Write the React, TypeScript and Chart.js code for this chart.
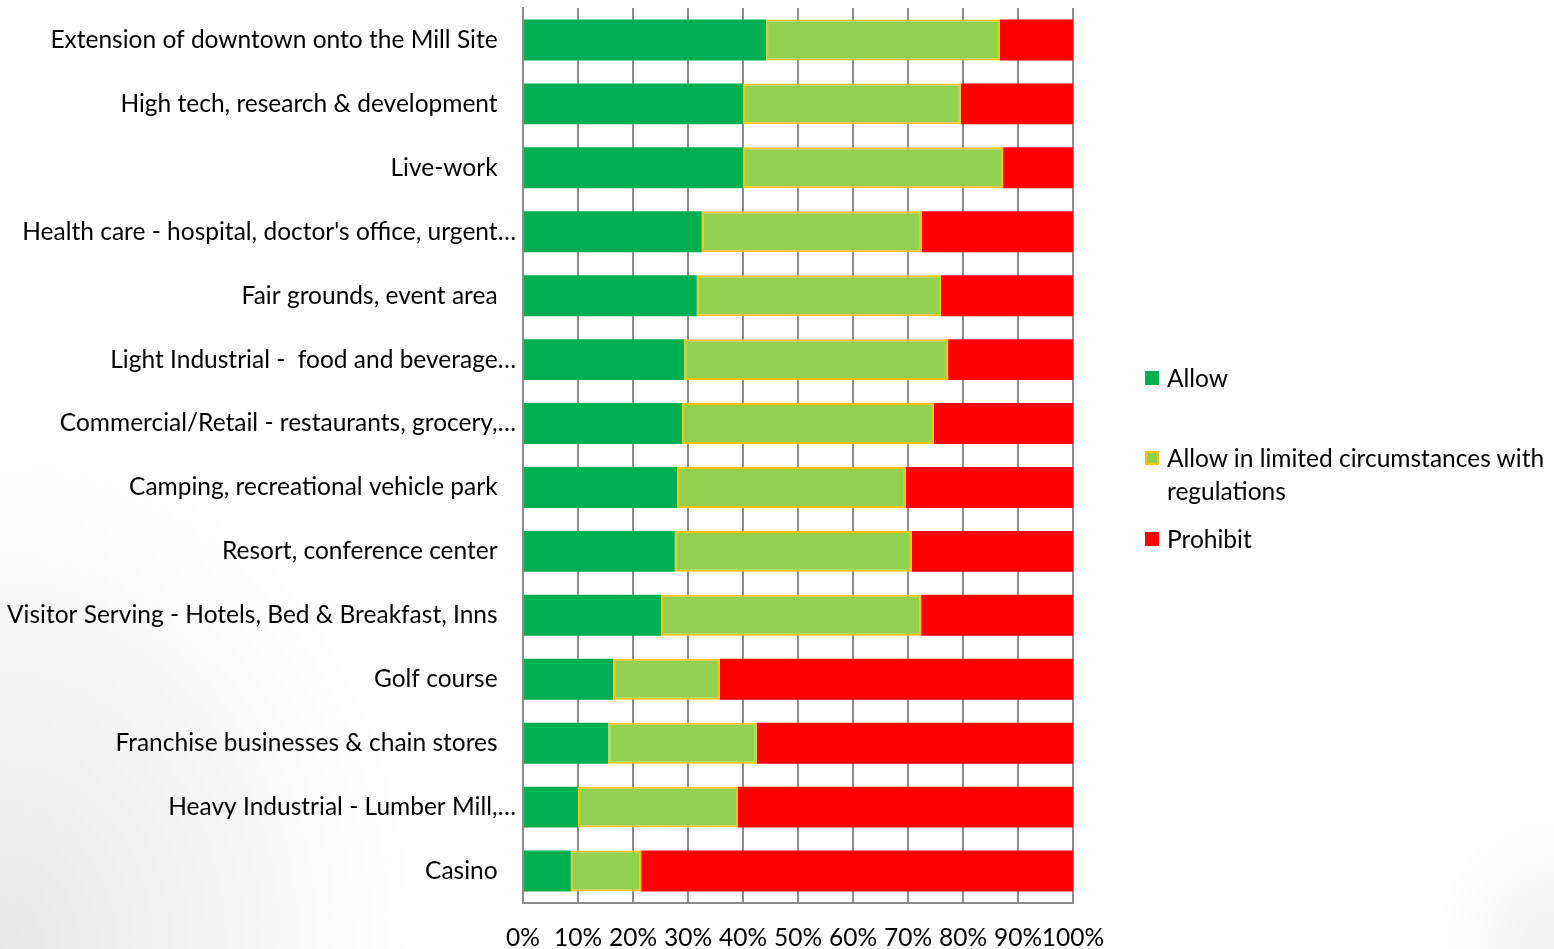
import React, { useEffect, useRef } from "react";
import { Chart, registerables } from "chart.js";

Chart.register(...registerables);

const categories = [
  "Extension of downtown onto the Mill Site",
  "High tech, research & development",
  "Live-work",
  "Health care - hospital, doctor's office, urgent…",
  "Fair grounds, event area",
  "Light Industrial -  food and beverage…",
  "Commercial/Retail - restaurants, grocery,…",
  "Camping, recreational vehicle park",
  "Resort, conference center",
  "Visitor Serving - Hotels, Bed & Breakfast, Inns",
  "Golf course",
  "Franchise businesses & chain stores",
  "Heavy Industrial - Lumber Mill,…",
  "Casino",
];

const allowVals = [44.2, 40.0, 40.0, 32.5, 31.6, 29.3, 28.9, 28.0, 27.6, 25.1, 16.4, 15.5, 10.0, 8.7];
const limitedVals = [42.5, 39.6, 47.3, 40.0, 44.4, 48.0, 45.8, 41.6, 43.1, 47.3, 19.4, 27.0, 29.1, 12.8];
const prohibitVals = [13.3, 20.4, 12.7, 27.5, 24.0, 22.7, 25.3, 30.4, 29.3, 27.6, 64.2, 57.5, 60.9, 78.5];

const seriesNames = ["Allow", "Allow in limited circumstances with regulations", "Prohibit"];
const xTicks = [0, 10, 20, 30, 40, 50, 60, 70, 80, 90, 100];

const FONT = "Lato";
const FS = 24.5;
const GREEN = "#00B050";
const LIGHT = "#92D050";
const GOLD = "#FFC000";
const RED = "#FF0000";

export default function App() {
  const ref = useRef<HTMLCanvasElement | null>(null);

  useEffect(() => {
    if (!ref.current) return;
    const chart = new Chart(ref.current, {
      type: "bar",
      data: {
        labels: categories,
        datasets: [
          {
            label: seriesNames[0],
            data: allowVals,
            backgroundColor: GREEN,
            borderWidth: 0,
            categoryPercentage: 0.8,
            barPercentage: 0.8,
          },
          {
            label: seriesNames[1],
            data: limitedVals,
            backgroundColor: LIGHT,
            borderColor: GOLD,
            borderWidth: 2,
            borderSkipped: false,
            categoryPercentage: 0.8,
            barPercentage: 0.8,
          },
          {
            label: seriesNames[2],
            data: prohibitVals,
            backgroundColor: RED,
            borderWidth: 0,
            categoryPercentage: 0.8,
            barPercentage: 0.8,
          },
        ],
      },
      options: {
        indexAxis: "y",
        animation: false,
        responsive: true,
        maintainAspectRatio: false,
        layout: { padding: { left: 0, right: 481, top: 8, bottom: 0 } },
        plugins: {
          legend: { display: false },
          tooltip: { enabled: false },
        },
        scales: {
          x: {
            stacked: true,
            min: 0,
            max: 100,
            afterBuildTicks: (scale: any) => {
              scale.ticks = xTicks.map((v) => ({ value: v }));
            },
            afterFit: (scale: any) => {
              scale.height = 46;
              scale.paddingLeft = 0;
              scale.paddingRight = 0;
            },
            grid: {
              color: "#8C8C8C",
              lineWidth: 2,
              drawTicks: false,
            },
            border: { color: "#8C8C8C", width: 2 },
            ticks: {
              autoSkip: false,
              maxRotation: 0,
              padding: 20,
              color: "#000",
              font: { family: FONT, size: FS },
              callback: (v: any) => v + "%",
            },
          },
          y: {
            stacked: true,
            afterFit: (scale: any) => {
              scale.width = 523;
              scale.paddingTop = 0;
              scale.paddingBottom = 0;
            },
            grid: { display: false, drawTicks: false },
            border: { color: "#8C8C8C", width: 2 },
            ticks: {
              autoSkip: false,
              padding: 7,
              color: "#000",
              font: { family: FONT, size: FS },
              callback: function (this: any, v: any) {
                const s = categories[v as number];
                return s.endsWith("…") ? s : s + "\u2002\u2005";
              },
            },
          },
        },
      },
    });
    return () => chart.destroy();
  }, []);

  const legendText: React.CSSProperties = {
    position: "absolute",
    left: 1167,
    fontFamily: FONT,
    fontSize: FS,
    lineHeight: "33px",
    color: "#000",
    whiteSpace: "nowrap",
  };
  const sq = (top: number, bg: string, border?: string): React.CSSProperties => ({
    position: "absolute",
    left: 1145,
    top,
    width: 14,
    height: 14,
    boxSizing: "border-box",
    background: bg,
    border: border ? `2px solid ${border}` : "none",
  });

  return (
    <div
      style={{
        position: "absolute",
        left: 0,
        top: 0,
        width: 1554,
        height: 949,
        overflow: "hidden",
        background:
          "radial-gradient(ellipse 420px 520px at 0% 100%, rgba(0,0,0,0.09), rgba(0,0,0,0) 100%), radial-gradient(ellipse 120px 140px at 100% 100%, rgba(0,0,0,0.06), rgba(0,0,0,0) 100%), #fff",
      }}
    >
      <canvas ref={ref} style={{ position: "absolute", left: 0, top: 0 }} />
      <div style={sq(371, GREEN)} />
      <div style={{ ...legendText, top: 361 }}>{seriesNames[0]}</div>
      <div style={sq(451, LIGHT, GOLD)} />
      <div style={{ ...legendText, top: 441 }}>
        Allow in limited circumstances with
        <br />
        regulations
      </div>
      <div style={sq(532, RED)} />
      <div style={{ ...legendText, top: 522 }}>{seriesNames[2]}</div>
    </div>
  );
}
